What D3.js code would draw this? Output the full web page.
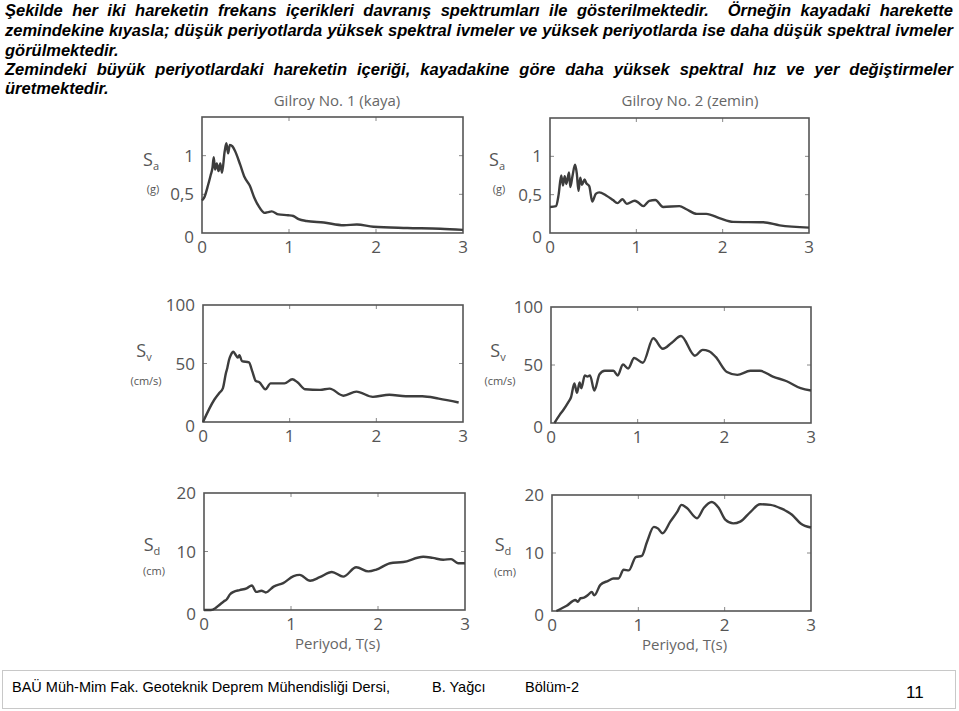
<!DOCTYPE html>
<html><head><meta charset="utf-8">
<script src="https://cdn.jsdelivr.net/npm/d3@7/dist/d3.min.js"></script>
<style>body{margin:0;background:#fff;overflow:hidden}</style>
</head><body>
<svg id="c" width="959" height="711"></svg>
<script>
// ---------- text ----------
const headerLines = [
  "Şekilde her iki hareketin frekans içerikleri davranış spektrumları ile gösterilmektedir.  Örneğin kayadaki harekette",
  "zemindekine kıyasla; düşük periyotlarda yüksek spektral ivmeler ve yüksek periyotlarda ise daha düşük spektral ivmeler",
  "görülmektedir.",
  "Zemindeki büyük periyotlardaki hareketin içeriği, kayadakine göre daha yüksek spektral hız ve yer değiştirmeler",
  "üretmektedir."
];
const headerJustify = [true, true, false, true, false];
const columnTitles = ["Gilroy No. 1 (kaya)", "Gilroy No. 2 (zemin)"];
const xTicks = [0, 1, 2, 3];
const xLabel = "Periyod, T(s)";
const footerTexts = ["BAÜ Müh-Mim Fak. Geoteknik Deprem Mühendisliği Dersi,", "B. Yağcı", "Bölüm-2"];
const pageNumber = "11";

// ---------- data: Sa (g) ----------
const saRockT = [0,0.03,0.07,0.10,0.12,0.135,0.15,0.17,0.19,0.21,0.23,0.26,0.28,0.30,0.32,0.35,0.38,0.44,0.49,0.55,0.60,0.65,0.72,0.76,0.80,0.88,0.99,1.05,1.11,1.20,1.40,1.63,1.78,1.97,2.36,2.74,3.0];
const saRockV = [0.42,0.47,0.62,0.75,0.84,0.98,0.82,0.90,0.80,0.90,0.78,1.05,1.16,1.03,1.14,1.12,1.06,0.88,0.72,0.61,0.46,0.35,0.26,0.27,0.28,0.24,0.23,0.22,0.18,0.155,0.135,0.10,0.11,0.08,0.065,0.055,0.04];
const saSoilT = [0,0.07,0.10,0.13,0.15,0.17,0.19,0.22,0.235,0.26,0.29,0.31,0.33,0.35,0.37,0.40,0.42,0.455,0.49,0.53,0.57,0.65,0.73,0.78,0.84,0.89,0.98,1.02,1.08,1.15,1.22,1.31,1.50,1.58,1.70,1.81,1.97,2.12,2.47,2.66,3.0];
const saSoilV = [0.34,0.35,0.50,0.75,0.62,0.74,0.64,0.79,0.60,0.74,0.89,0.78,0.55,0.72,0.63,0.70,0.65,0.61,0.41,0.51,0.53,0.49,0.43,0.39,0.44,0.38,0.42,0.40,0.35,0.42,0.43,0.34,0.35,0.31,0.25,0.25,0.19,0.145,0.14,0.10,0.07];

// ---------- data: Sv (cm/s) ----------
const svRockT = [0,0.13,0.19,0.23,0.265,0.28,0.30,0.32,0.35,0.38,0.40,0.42,0.45,0.53,0.57,0.61,0.65,0.72,0.78,0.94,1.03,1.09,1.18,1.35,1.46,1.62,1.77,1.96,2.15,2.34,2.53,2.72,2.95];
const svRockV = [0,19,25,29,42,46,53,57,60,57,55,57,52,51,43,35,34,28,33,33,36.5,34,28,27.5,28.5,22.5,26,21.5,23.3,22,22,20,16.7];
const svSoilT = [0.04,0.10,0.14,0.20,0.23,0.27,0.30,0.33,0.35,0.39,0.42,0.45,0.50,0.56,0.62,0.72,0.77,0.83,0.89,0.96,1.06,1.18,1.29,1.39,1.50,1.66,1.75,1.82,1.90,2.03,2.15,2.30,2.41,2.56,2.72,2.88,3.0];
const svSoilV = [0,7,11,18,22,34,26,35,30,41,40,41,28,42,45,45,41,50.5,47,56,52,73,64,69,75,58,63,62,57,44,41.5,45,45,40,36,30,28];

// ---------- data: Sd (cm) ----------
const sdRockT = [0,0.08,0.13,0.18,0.23,0.26,0.30,0.34,0.41,0.49,0.55,0.60,0.66,0.71,0.80,0.91,1.03,1.10,1.22,1.33,1.47,1.60,1.75,1.89,1.98,2.14,2.29,2.52,2.63,2.75,2.84,2.92,3.0];
const sdRockV = [0,0,0.3,0.9,1.5,1.8,2.7,3.1,3.4,3.7,4.2,3.1,3.3,3.0,4.0,4.6,5.8,6.0,5.0,5.6,6.5,5.7,7.3,6.6,6.9,8.0,8.2,9.1,8.9,8.6,8.7,8.0,8.0];
const sdSoilT = [0.05,0.17,0.27,0.30,0.33,0.37,0.42,0.46,0.49,0.56,0.65,0.71,0.77,0.83,0.89,0.97,1.04,1.10,1.18,1.23,1.28,1.37,1.45,1.50,1.56,1.68,1.76,1.85,1.93,2.01,2.10,2.18,2.30,2.41,2.53,2.65,2.78,2.88,3.0];
const sdSoilV = [0,0.9,1.9,1.6,2.2,2.3,2.8,3.3,2.7,4.5,5.2,5.6,5.6,7.1,7.0,9.3,9.5,11.9,14.5,14.2,13.4,15.4,17.1,18.3,17.8,16.0,17.8,18.8,17.8,15.7,15.1,15.4,17.1,18.4,18.3,17.7,16.6,15.1,14.4];

// ---------- axis definitions ----------
const saMax = 1.5, saTicks = [0, 0.5, 1], saTickLabels = ["0", "0,5", "1"];
const svMax = 100, svTicks = [0, 50, 100], svTickLabels = ["0", "50", "100"];
const sdMax = 20, sdTicks = [0, 10, 20], sdTickLabels = ["0", "10", "20"];

// ---------- layout ----------
const svg = d3.select("#c");
const ink = "#555", curveInk = "#3d3d3d";
const tickFont = "'Open Sans', 'DejaVu Sans', sans-serif";

const panels = [
  {T: saRockT, V: saRockV, box: [202, 463, 117, 233], max: saMax, ticks: saTicks, labels: saTickLabels, sub: "a", unit: "(g)", yl: 151, yS: 166, yU: 193, xl: false},
  {T: saSoilT, V: saSoilV, box: [550, 809, 118, 233], max: saMax, ticks: saTicks, labels: saTickLabels, sub: "a", unit: "(g)", yl: 497, yS: 166, yU: 193, xl: false},
  {T: svRockT, V: svRockV, box: [203, 463, 305, 422], max: svMax, ticks: svTicks, labels: svTickLabels, sub: "v", unit: "(cm/s)", yl: 144, yS: 357, yU: 385, xl: false},
  {T: svSoilT, V: svSoilV, box: [551, 811, 307, 423], max: svMax, ticks: svTicks, labels: svTickLabels, sub: "v", unit: "(cm/s)", yl: 498, yS: 357, yU: 385, xl: false},
  {T: sdRockT, V: sdRockV, box: [204, 465, 493, 610], max: sdMax, ticks: sdTicks, labels: sdTickLabels, sub: "d", unit: "(cm)", yl: 152, yS: 551, yU: 575, xl: true},
  {T: sdSoilT, V: sdSoilV, box: [552, 811, 495, 611], max: sdMax, ticks: sdTicks, labels: sdTickLabels, sub: "d", unit: "(cm)", yl: 503, yS: 551, yU: 576, xl: true}
];

// ---------- header ----------
const hdrX0 = 5, hdrX1 = 953, hdrY = [16, 36, 56, 75, 94];
const W = hdrX1 - hdrX0;
let hdrSize = 17.5;
const hdr = svg.append("g").attr("font-family", "'Liberation Sans', Arial, sans-serif")
  .attr("font-weight", "bold").attr("font-style", "italic").attr("font-size", hdrSize).attr("fill", "#000");
const hdrTexts = headerLines.map((s, i) =>
  hdr.append("text").attr("x", hdrX0).attr("y", hdrY[i]).attr("xml:space", "preserve").text(s));
const maxL = d3.max(hdrTexts, t => t.node().getComputedTextLength());
if (maxL > W - 2) {
  hdrSize = Math.floor(hdrSize * (W - 2) / maxL * 10) / 10;
  hdr.attr("font-size", hdrSize);
}
hdrTexts.forEach((t, i) => {
  if (!headerJustify[i]) return;
  const s = headerLines[i];
  const L = t.node().getComputedTextLength();
  const n = (s.match(/ /g) || []).length;
  if (L < W) t.attr("word-spacing", (W - L) / n);
});

// ---------- column titles ----------
[[337, columnTitles[0]], [690, columnTitles[1]]].forEach(([x, s]) => {
  svg.append("text").attr("x", x).attr("y", 106).attr("text-anchor", "middle")
    .attr("font-family", tickFont).attr("font-size", 15).attr("fill", "#666").text(s);
});

// ---------- panels ----------
panels.forEach(p => {
  const [l, r, t, b] = p.box;
  const x = d3.scaleLinear().domain([0, 3]).range([l, r]);
  const y = d3.scaleLinear().domain([0, p.max]).range([b, t]);
  const g = svg.append("g");

  // inner tick marks
  const tk = 4;
  xTicks.slice(1, -1).forEach(v => {
    g.append("line").attr("x1", x(v)).attr("x2", x(v)).attr("y1", b).attr("y2", b - tk).attr("stroke", "#888").attr("stroke-width", 1);
    g.append("line").attr("x1", x(v)).attr("x2", x(v)).attr("y1", t).attr("y2", t + tk).attr("stroke", "#888").attr("stroke-width", 1);
  });
  p.ticks.filter(v => v > 0 && v < p.max).forEach(v => {
    g.append("line").attr("x1", l).attr("x2", l + tk).attr("y1", y(v)).attr("y2", y(v)).attr("stroke", "#888").attr("stroke-width", 1);
    g.append("line").attr("x1", r).attr("x2", r - tk).attr("y1", y(v)).attr("y2", y(v)).attr("stroke", "#888").attr("stroke-width", 1);
  });

  // frame
  g.append("rect").attr("x", l).attr("y", t).attr("width", r - l).attr("height", b - t)
    .attr("fill", "none").attr("stroke", ink).attr("stroke-width", 1.6);

  // curve
  const pts = p.T.map((tt, i) => [tt, p.V[i]]);
  g.append("path").datum(pts)
    .attr("d", d3.line().x(d => x(d[0])).y(d => y(d[1])).curve(d3.curveMonotoneX))
    .attr("fill", "none").attr("stroke", curveInk).attr("stroke-width", 2.4).attr("stroke-linejoin", "round");

  // x tick labels
  g.selectAll(".xt").data(xTicks).enter().append("text")
    .attr("x", d => x(d)).attr("y", b + 20).attr("text-anchor", "middle")
    .attr("font-family", tickFont).attr("font-size", 17).attr("fill", ink).text(d => d);

  // y tick labels
  g.selectAll(".yt").data(p.ticks).enter().append("text")
    .attr("x", l - 8).attr("y", d => y(d) + (d === 0 ? 10 : 6)).attr("text-anchor", "end")
    .attr("font-family", tickFont).attr("font-size", 17).attr("fill", ink).text((d, i) => p.labels[i]);

  // y axis label
  const st = g.append("text").attr("x", p.yl).attr("y", p.yS).attr("text-anchor", "middle")
    .attr("font-family", tickFont).attr("font-size", 18).attr("fill", ink);
  st.append("tspan").text("S");
  st.append("tspan").attr("font-size", 11).attr("dy", 4).text(p.sub);
  g.append("text").attr("x", p.yl + 2).attr("y", p.yU).attr("text-anchor", "middle")
    .attr("font-family", tickFont).attr("font-size", 11).attr("fill", ink).text(p.unit);

  if (p.xl) {
    g.append("text").attr("x", (l + r) / 2 + 3).attr("y", b + 39).attr("text-anchor", "middle")
      .attr("font-family", tickFont).attr("font-size", 15).attr("fill", "#666").text(xLabel);
  }
});

// ---------- footer ----------
svg.append("rect").attr("x", 2.5).attr("y", 670.5).attr("width", 953).attr("height", 38)
  .attr("fill", "none").attr("stroke", "#c8c8c8").attr("stroke-width", 1);
const ft = svg.append("g").attr("font-family", "'Liberation Sans', Arial, sans-serif").attr("fill", "#000");
[[12, footerTexts[0]], [432, footerTexts[1]], [525, footerTexts[2]]].forEach(([xx, s]) => {
  ft.append("text").attr("x", xx).attr("y", 692).attr("font-size", 14.5).text(s);
});
ft.append("text").attr("x", 906).attr("y", 698).attr("font-size", 17).text(pageNumber);
</script>
</body></html>
